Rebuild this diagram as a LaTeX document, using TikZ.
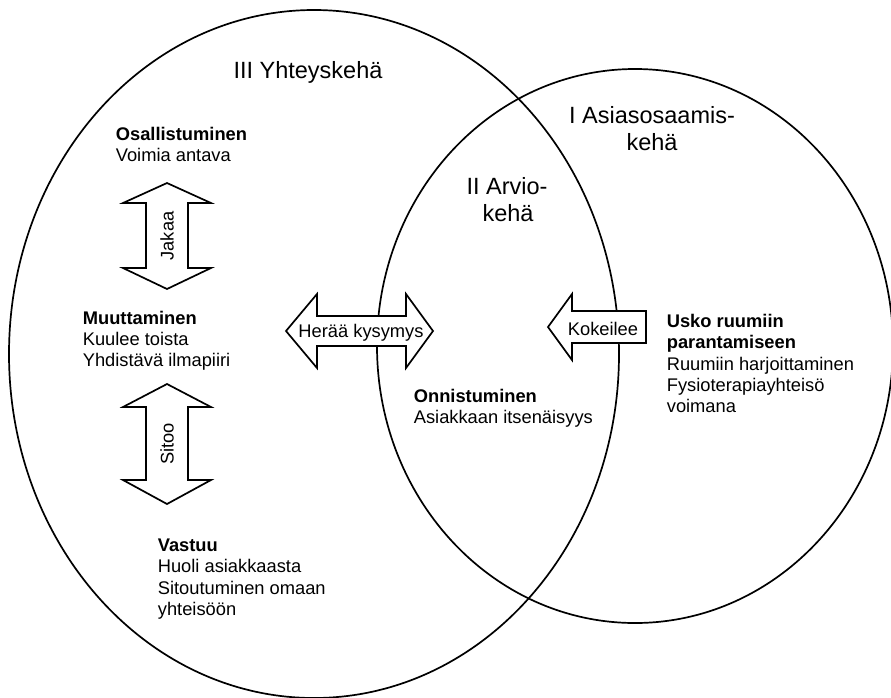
\documentclass[tikz,border=0pt]{standalone}
\usepackage{fontspec}
\setmainfont{Liberation Sans}
\begin{document}
\begin{tikzpicture}[x=1pt,y=-1pt,
  line width=1.7pt, line join=miter,
  body/.style={font=\fontsize{18.3}{21}\selectfont, inner sep=0pt, anchor=base west},
  bodyb/.style={body, font=\fontsize{18.3}{21}\selectfont\bfseries},
  head/.style={font=\fontsize{23.5}{27}\selectfont, inner sep=0pt, anchor=base},
  arrtext/.style={font=\fontsize{18.3}{21}\selectfont, inner sep=0pt},
  blockarrow/.style={draw=black, fill=white, line width=1.7pt}]
\useasboundingbox (0,0) rectangle (891,697);

% circles
\draw (314,354) ellipse [x radius=305pt, y radius=344pt];
\draw (635,346) ellipse [x radius=258pt, y radius=277pt];

% headings
\node[head] (h3) at (308,78) {III Yhteyskehä};
\node[head] (h1a) at (652,123) {I Asiasosaamis-};
\node[head] (h1b) at (652,150) {kehä};
\node[head] (h2a) at (507,194) {II Arvio-};
\node[head] (h2b) at (508,221) {kehä};

% vertical double arrows
\draw[blockarrow] (167,183) -- (211,203) -- (188,203) -- (188,268) -- (211,268) -- (167,289)
  -- (123,268) -- (146,268) -- (146,203) -- (123,203) -- cycle;
\node[arrtext, rotate=90] (jakaa) at (167,236) {Jakaa};

\draw[blockarrow] (167,384) -- (211,407) -- (188,407) -- (188,480) -- (211,480) -- (167,504)
  -- (123,480) -- (146,480) -- (146,407) -- (123,407) -- cycle;
\node[arrtext, rotate=90] (sitoo) at (167,444) {Sitoo};

% horizontal double arrow
\draw[blockarrow] (286,331) -- (317,294) -- (317,316) -- (406,316) -- (406,294) -- (433,331)
  -- (406,368) -- (406,346) -- (317,346) -- (317,368) -- cycle;
\node[arrtext, anchor=base] (heraa) at (361,337) {Herää kysymys};

% single arrow
\draw[blockarrow] (548,327) -- (572,294) -- (572,311) -- (646,311) -- (646,343) -- (572,343)
  -- (572,360) -- cycle;
\node[arrtext, anchor=base] (kokeilee) at (603,335) {Kokeilee};

% text blocks
\node[bodyb] (osa1) at (115,140) {Osallistuminen};
\node[body]  (osa2) at (115,161) {Voimia antava};

\node[bodyb] (muu1) at (82,324) {Muuttaminen};
\node[body]  (muu2) at (82,345) {Kuulee toista};
\node[body]  (muu3) at (82,366) {Yhdistävä ilmapiiri};

\node[bodyb] (vas1) at (157,551) {Vastuu};
\node[body]  (vas2) at (157,572) {Huoli asiakkaasta};
\node[body]  (vas3) at (157,594) {Sitoutuminen omaan};
\node[body]  (vas4) at (157,615) {yhteisöön};

\node[bodyb] (onn1) at (413,402) {Onnistuminen};
\node[body]  (onn2) at (413,423) {Asiakkaan itsenäisyys};

\node[bodyb] (usk1) at (666,327) {Usko ruumiin};
\node[bodyb] (usk2) at (666,348) {parantamiseen};
\node[body]  (usk3) at (666,370) {Ruumiin harjoittaminen};
\node[body]  (usk4) at (666,391) {Fysioterapiayhteisö};
\node[body]  (usk5) at (666,412) {voimana};
\end{tikzpicture}
\end{document}
